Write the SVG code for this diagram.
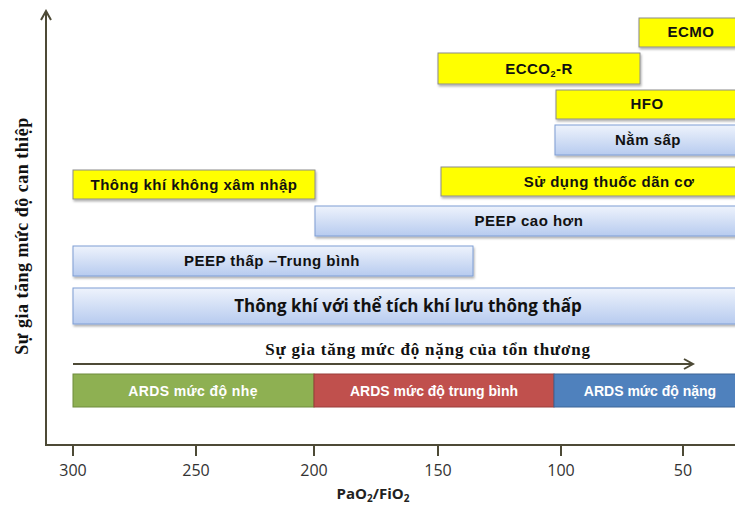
<svg xmlns="http://www.w3.org/2000/svg" width="735" height="506" viewBox="0 0 735 506">
<defs>
<linearGradient id="blueGrad" x1="0" y1="0" x2="0" y2="1">
<stop offset="0" stop-color="#eef3fc"/>
<stop offset="1" stop-color="#b7cbef"/>
</linearGradient>
<filter id="sh" x="-5%" y="-20%" width="110%" height="150%">
<feDropShadow dx="1" dy="2" stdDeviation="1.2" flood-color="#000" flood-opacity="0.3"/>
</filter>
<marker id="arr" viewBox="0 0 12 12" refX="10" refY="6" markerWidth="12" markerHeight="12" markerUnits="userSpaceOnUse" orient="auto">
<path d="M1,1 L10,6 L1,11" fill="none" stroke="#4d4a36" stroke-width="2"/>
</marker>
</defs>
<style>
.yel{fill:#ffff00;stroke:#8c8c8c;stroke-width:1;filter:url(#sh)}
.blu{fill:url(#blueGrad);stroke:#7e9ed4;stroke-width:1;filter:url(#sh)}
.lbl{font-family:"Liberation Sans",Arial,sans-serif;font-weight:bold;font-size:15px;letter-spacing:0.5px;fill:#111;text-anchor:middle}
.ards{font-family:"Liberation Sans",Arial,sans-serif;font-weight:bold;font-size:14px;fill:#ffffff;text-anchor:middle}
.tick{font-family:"Open Sans","Liberation Sans",sans-serif;font-size:16px;fill:#333;text-anchor:middle}
.ser{font-family:"Liberation Serif","Times New Roman",serif;font-weight:bold;fill:#111}
.axis{stroke:#4d4a36;stroke-width:2;fill:none}
</style>
<rect width="735" height="506" fill="#ffffff"/>
<g id="connectors">
<line class="axis" x1="46" y1="445" x2="46" y2="11" marker-end="url(#arr)"/>
<line class="axis" x1="45" y1="445" x2="735" y2="445"/>
<line class="axis" x1="73" y1="445" x2="73" y2="456"/>
<line class="axis" x1="196" y1="445" x2="196" y2="456"/>
<line class="axis" x1="314" y1="445" x2="314" y2="456"/>
<line class="axis" x1="438" y1="445" x2="438" y2="456"/>
<line class="axis" x1="561" y1="445" x2="561" y2="456"/>
<line class="axis" x1="683" y1="445" x2="683" y2="456"/>
<line class="axis" x1="73" y1="364" x2="693" y2="364" marker-end="url(#arr)"/>
</g>
<g id="ticks">
<text class="tick" x="73" y="476">300</text>
<text class="tick" x="196" y="476">250</text>
<text class="tick" x="314" y="476">200</text>
<text class="tick" x="438" y="476">150</text>
<text class="tick" x="561" y="476">100</text>
<text class="tick" x="683" y="476">50</text>
</g>
<g id="xlabel"><text x="373" y="499" font-family="'Open Sans','Liberation Sans',sans-serif" font-weight="bold" font-size="15" fill="#222" text-anchor="middle">PaO<tspan font-size="10" dy="3">2</tspan><tspan dy="-3">/FiO</tspan><tspan font-size="10" dy="3">2</tspan></text></g>
<g id="ylabel"><text class="ser" font-size="18" letter-spacing="0.5" text-anchor="middle" transform="translate(28,236) rotate(-90)">Sự gia tăng mức độ can thiệp</text></g>
<g id="node-ecmo"><rect class="yel" x="639" y="18" width="100" height="29"/><text class="lbl" x="691" y="37">ECMO</text></g>
<g id="node-ecco2r"><rect class="yel" x="438" y="53" width="202" height="31"/><text class="lbl" x="539" y="74">ECCO<tspan font-size="9" dy="3">2</tspan><tspan dy="-3">-R</tspan></text></g>
<g id="node-hfo"><rect class="yel" x="556" y="90" width="183" height="29"/><text class="lbl" x="647" y="109">HFO</text></g>
<g id="node-namsap"><rect class="blu" x="555" y="125" width="184" height="30"/><text class="lbl" x="648" y="145">Nằm sấp</text></g>
<g id="node-dancơ"><rect class="yel" x="441" y="167" width="298" height="29"/><text class="lbl" x="609" y="187" font-size="14" letter-spacing="0">Sử dụng thuốc dãn cơ</text></g>
<g id="node-khongxamnhap"><rect class="yel" x="73" y="170" width="242" height="29"/><text class="lbl" x="194" y="190" letter-spacing="0.2">Thông khí không xâm nhập</text></g>
<g id="node-peepcao"><rect class="blu" x="315" y="206" width="424" height="30"/><text class="lbl" x="529" y="226">PEEP cao hơn</text></g>
<g id="node-peepthap"><rect class="blu" x="73" y="246" width="400" height="30"/><text class="lbl" x="272" y="266">PEEP thấp –Trung bình</text></g>
<g id="node-thetich"><rect class="blu" x="73" y="288" width="666" height="36"/><text x="408" y="312" font-family="'Open Sans','Liberation Sans',sans-serif" font-weight="bold" font-size="17" fill="#111" text-anchor="middle">Thông khí với thể tích khí lưu thông thấp</text></g>
<g id="severity"><text class="ser" font-size="17" letter-spacing="0.8" x="428" y="355" text-anchor="middle">Sự gia tăng mức độ nặng của tổn thương</text></g>
<g id="node-nhe"><rect x="73" y="374" width="241" height="33" fill="#8eb052" stroke="#6f8c3c" stroke-width="1"/><text class="ards" x="193" y="396" font-size="15" letter-spacing="0.4">ARDS mức độ nhẹ</text></g>
<g id="node-trungbinh"><rect x="314" y="374" width="240" height="33" fill="#c0504d" stroke="#9a3d3a" stroke-width="1"/><text class="ards" x="434" y="396">ARDS mức độ trung bình</text></g>
<g id="node-nang"><rect x="554" y="374" width="185" height="33" fill="#4f81bd" stroke="#3c6596" stroke-width="1"/><text class="ards" x="650" y="396">ARDS mức độ nặng</text></g>
</svg>
